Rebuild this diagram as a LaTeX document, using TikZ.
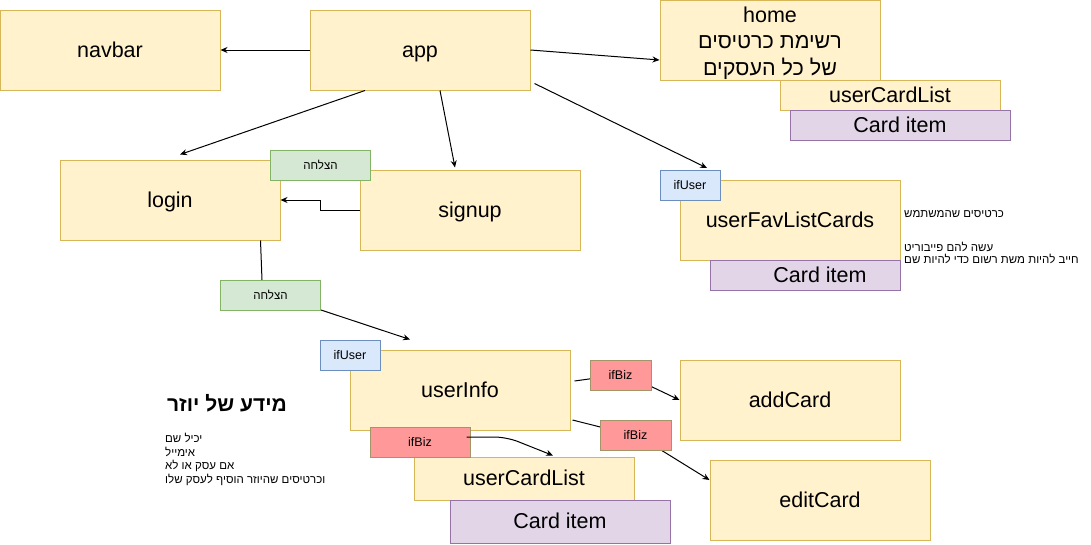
\documentclass[tikz,border=0pt]{standalone}
\usepackage{fontspec}
\setmainfont{Liberation Sans}
\newfontfamily\hebfont[Script=Hebrew]{Liberation Sans}
\TeXXeTstate=1
\usetikzlibrary{arrows.meta}
\definecolor{yfill}{HTML}{FFF2CC}
\definecolor{ydraw}{HTML}{D6B656}
\definecolor{pfill}{HTML}{E1D5E7}
\definecolor{pdraw}{HTML}{9673A6}
\definecolor{gfill}{HTML}{D5E8D4}
\definecolor{gdraw}{HTML}{82B366}
\definecolor{bfill}{HTML}{DAE8FC}
\definecolor{bdraw}{HTML}{6C8EBF}
\definecolor{rfill}{HTML}{FF9999}
\definecolor{rdraw}{HTML}{A3946A}
\newcommand{\heb}[1]{{\hebfont\beginR #1\endR}}

\begin{document}
\begin{tikzpicture}[x=1pt,y=-1pt,
  box/.style={draw=ydraw,fill=yfill,line width=1pt,inner sep=0pt,align=center,font=\fontsize{21.5}{26.5}\selectfont},
  blk/.style={box,text height=19.5pt,text depth=4.7pt},
  item/.style={blk,draw=pdraw,fill=pfill},
  tag/.style={draw,line width=1pt,inner sep=0pt,minimum height=30pt,text height=11.3pt,text depth=2.7pt,font=\fontsize{12.5}{15}\selectfont},
  ok/.style={tag,draw=gdraw,fill=gfill,minimum width=100pt,font=\fontsize{11.5}{14}\selectfont},
  usr/.style={tag,draw=bdraw,fill=bfill,minimum width=60pt},
  biz/.style={tag,draw=rdraw,fill=rfill},
  flow/.style={-{Stealth[length=7pt,width=6pt]},line width=1pt,black},
  link/.style={line width=1pt,black},
  note/.style={font=\fontsize{11.5}{13.5}\selectfont,align=left,inner sep=0pt}]
  \useasboundingbox (0,0) rectangle (1091,544);

  % ===== boxes =====
  \node[blk,minimum width=220pt,minimum height=80pt] (navbar) at (110,50) {navbar};
  \node[blk,minimum width=220pt,minimum height=80pt] (app) at (420,50) {app};
  \node[box,minimum width=220pt,minimum height=80pt] (home) at (770,40) {\rule{0pt}{21.5pt}home\\\heb{רשימת כרטיסים}\\\heb{של כל העסקים}};
  \node[blk,minimum width=220pt,minimum height=30pt] (homeList) at (890,95) {userCardList};
  \node[item,minimum width=220pt,minimum height=30pt] (homeCard) at (900,125) {Card item};
  \node[blk,minimum width=220pt,minimum height=80pt] (login) at (170,200) {login};
  \node[blk,minimum width=220pt,minimum height=80pt] (signup) at (470,210) {signup};
  \node[blk,minimum width=220pt,minimum height=80pt] (fav) at (790,220) {userFavListCards};
  \node[item,minimum width=190pt,minimum height=30pt] (favCard) at (805,275) {\hspace*{30pt}Card item};
  \node[blk,minimum width=220pt,minimum height=80pt] (userInfo) at (460,390) {userInfo};
  \node[blk,minimum width=220pt,minimum height=80pt] (addCard) at (790,400) {addCard};
  \node[blk,minimum width=220pt,minimum height=80pt] (editCard) at (820,500) {editCard};
  \node[blk,minimum width=220pt,minimum height=43pt] (infoList) at (524,478.5) {userCardList};
  \node[item,minimum width=220pt,minimum height=43pt] (infoCard) at (560,521.5) {Card item};

  % ===== notes =====
  \node[note,anchor=west] (favNoteA) at (904,214) {\heb{כרטיסים שהמשתמש}};
  \node[note,anchor=north west,font=\fontsize{11.5}{12}\selectfont] (favNoteB) at (904,242) {\heb{עשה להם פייבוריט}\\\heb{חייב להיות משת רשום כדי להיות שם}};
  \node[font=\fontsize{21}{24}\selectfont\bfseries,inner sep=0pt] (infoTitle) at (227,403) {\heb{מידע של יוזר}};
  \node[note,anchor=north west] (infoNote) at (165,433) {\heb{יכיל שם}\\\heb{אימייל}\\\heb{אם עסק או לא}\\\heb{וכרטיסים שהיוזר הוסיף לעסק שלו}};

  % ===== connectors =====
  \coordinate (bendAdd) at (625,374);
  \coordinate (bendEdit) at (640,437);
  \draw[flow] (app.west) -- (navbar.east);
  \draw[flow] (app.east) -- ([yshift=-20pt]home.west);
  \draw[flow] ([xshift=-55pt]app.south) -- ([xshift=10pt,yshift=5pt]login.north);
  \draw[flow] ([xshift=20pt]app.south) -- ([xshift=-15pt,yshift=2pt]signup.north);
  \draw[flow] ([xshift=4pt,yshift=7pt]app.south east) -- (707,168);
  \draw[flow] (signup.west) -- ++(-39,0) |- (login.east);
  \draw[link] ([xshift=-20pt]login.south east) -- (262,280);
  \draw[flow] (321,310) -- ([xshift=-50pt,yshift=10pt]userInfo.north);
  \draw[flow] ([xshift=4pt,yshift=9pt]userInfo.east) -- (bendAdd) -- (addCard.west);
  \draw[flow] ([xshift=2pt,yshift=-30pt]userInfo.east) -- (bendEdit) -- ([yshift=20pt]editCard.west);

  % ===== tags =====
  \node[ok] (succTop) at (320.5,165.5) {\heb{הצלחה}};
  \node[ok] (succLow) at (270.5,295) {\heb{הצלחה}};
  \node[usr] (favIf) at (690,185) {ifUser};
  \node[usr] (infoIf) at (350,355) {ifUser};
  \node[biz,minimum width=61pt] (bizAdd) at (620.5,375.5) {ifBiz};
  \node[biz,minimum width=71pt] (bizEdit) at (635.5,435) {ifBiz};
  \node[biz,minimum width=100pt] (bizList) at (420,442) {ifBiz};
  \draw[flow,rounded corners=12pt] ([xshift=-4pt,yshift=5pt]bizList.east) -- ++(40,0) -- ([xshift=29pt,yshift=1pt]infoList.north);
\end{tikzpicture}
\end{document}
